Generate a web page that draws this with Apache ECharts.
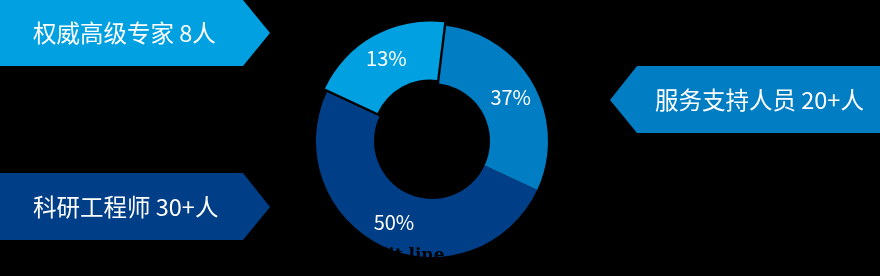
<!DOCTYPE html>
<html>
<head>
<meta charset="utf-8">
<script src="https://cdn.jsdelivr.net/npm/echarts@6/dist/echarts.min.js"></script>
<style>
html,body{margin:0;padding:0;background:#000;}
#c{width:880px;height:276px;}
</style>
</head>
<body>
<div id="c"></div>
<script>
// Data
const categories = ['权威高级专家', '服务支持人员', '科研工程师'];
const sliceValues = [20, 30, 50];            // arc sizes as drawn
const labelTexts = ['13%', '37%', '50%'];    // label text shown on slices
const bannerTexts = ['权威高级专家 8人', '科研工程师 30+人', '服务支持人员 20+人'];
const creditText = 'Credit line';

const colors = ['#00A0E1', '#007DC3', '#003F87'];
const FONT = '"Noto Sans CJK SC", "Noto Sans", sans-serif';

const chart = echarts.init(document.getElementById('c'), null, {renderer: 'canvas'});

const pieData = categories.map((n, i) => ({
  name: n,
  value: sliceValues[i],
  selected: i === 0,
  itemStyle: {color: colors[i]},
  label: {formatter: labelTexts[i]}
}));

chart.setOption({
  backgroundColor: '#000',
  animation: false,
  series: [{
    type: 'pie',
    center: [432, 141],
    radius: [58, 116],
    startAngle: 155,
    clockwise: true,
    selectedMode: 'single',
    selectedOffset: 4,
    avoidLabelOverlap: false,
    label: {
      show: true,
      position: 'inside',
      color: '#fff',
      fontSize: 20,
      fontFamily: FONT
    },
    labelLine: {show: false},
    emphasis: {disabled: true},
    data: pieData
  }],
  graphic: [
    {type: 'polygon', shape: {points: [[0,0],[243,0],[270,33],[243,66],[0,66]]}, style: {fill: colors[0]}, z: 1},
    {type: 'polygon', shape: {points: [[0,173],[243,173],[270,207],[243,240],[0,240]]}, style: {fill: colors[2]}, z: 1},
    {type: 'polygon', shape: {points: [[880,66],[637,66],[610,100],[637,133],[880,133]]}, style: {fill: colors[1]}, z: 1},
    {type: 'text', x: 33, y: 33, style: {text: bannerTexts[0], fill: '#fff', font: '23.5px ' + FONT, textVerticalAlign: 'middle'}, z: 2},
    {type: 'text', x: 33, y: 207, style: {text: bannerTexts[1], fill: '#fff', font: '23.5px ' + FONT, textVerticalAlign: 'middle'}, z: 2},
    {type: 'text', x: 655, y: 100, style: {text: bannerTexts[2], fill: '#fff', font: '23.5px ' + FONT, textVerticalAlign: 'middle'}, z: 2},
    {type: 'text', x: 343, y: 264, style: {text: creditText, fill: '#000', font: 'bold 17px "DejaVu Serif", serif', textAlign: 'left', textVerticalAlign: 'bottom'}, z: 100}
  ]
});
</script>
</body>
</html>
